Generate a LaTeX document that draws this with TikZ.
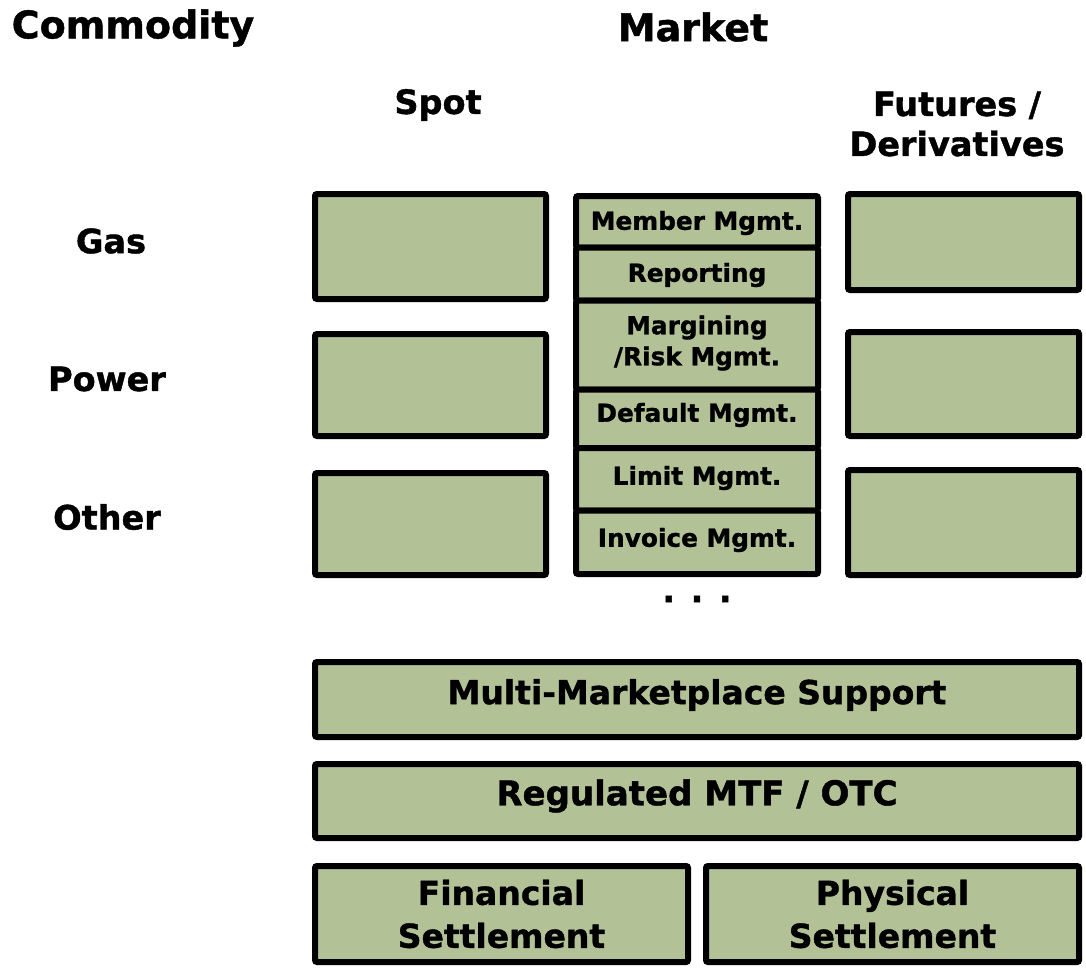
\documentclass[tikz,border=0pt]{standalone}
\usepackage{fontspec}
\setmainfont{DejaVu Sans}[BoldFeatures={FakeBold=1.2}]
\definecolor{boxgreen}{RGB}{179,194,150}
\begin{document}
\begin{tikzpicture}[x=1pt,y=-1pt,
  box/.style={draw=black, fill=boxgreen, line width=6pt, rounded corners=2pt, inner sep=0pt, align=center, font=\bfseries\fontsize{33}{43}\selectfont},
  midbox/.style={box, minimum width=242pt},
  head/.style={font=\bfseries\fontsize{38}{44}\selectfont, inner sep=0pt, align=center},
  sub/.style={font=\bfseries\fontsize{33.5}{40}\selectfont, inner sep=0pt, align=center}]
\useasboundingbox (0,0) rectangle (1086,970);
% headings
\node[head] (commodity) at (133,28) {Commodity};
\node[head] (market) at (693,27) {Market};
\node[sub] (spot) at (438,105) {Spot};
\node[sub] (futures) at (957,124) {Futures /\\Derivatives};
\node[sub] (gas) at (111,241) {Gas};
\node[sub] (power) at (107,379) {Power};
\node[sub] (other) at (107,517) {Other};
% spot column
\node[box, minimum width=231pt, minimum height=105pt] (sgas) at (430.5,246.5) {};
\node[box, minimum width=231pt, minimum height=102pt] (spower) at (430.5,385) {};
\node[box, minimum width=231pt, minimum height=102pt] (sother) at (430.5,524) {};
% futures column
\node[box, minimum width=231pt, minimum height=96pt] (fgas) at (963.5,242) {};
\node[box, minimum width=231pt, minimum height=104pt] (fpower) at (963.5,384) {};
\node[box, minimum width=231pt, minimum height=105pt] (fother) at (963.5,522.5) {};
% middle column
\node[midbox, minimum height=51.5pt] (member) at (697,221.75) {};
\node[midbox, minimum height=53pt] (reporting) at (697,274) {};
\node[midbox, minimum height=89pt] (margining) at (697,345) {};
\node[midbox, minimum height=58.5pt] (default) at (697,418.75) {};
\node[midbox, minimum height=62.5pt] (limit) at (697,479.25) {};
\node[midbox, minimum height=63.5pt] (invoice) at (697,542.25) {};
\begin{scope}[every node/.style={font=\bfseries\fontsize{24.8}{31}\selectfont, inner sep=0pt, align=center}]
\node (tmember) at (697,223) {Member Mgmt.};
\node (treporting) at (697,275) {Reporting};
\node (tmargining) at (697,343) {Margining\\/Risk Mgmt.};
\node (tdefault) at (697,415) {Default Mgmt.};
\node (tlimit) at (697,478) {Limit Mgmt.};
\node (tinvoice) at (697,540) {Invoice Mgmt.};
\end{scope}
\node[sub] (dots) at (697,599) {. . .};
% bottom layers
\node[box, minimum width=764pt, minimum height=75pt] (multi) at (697,699.5) {};
\node[box, minimum width=764pt, minimum height=74pt] (regulated) at (697,801) {};
\node[box, minimum width=373pt, minimum height=96pt] (financial) at (501.5,914) {Financial\\Settlement};
\node[box, minimum width=373pt, minimum height=96pt] (physical) at (892.5,914) {Physical\\Settlement};
\begin{scope}[every node/.style={font=\bfseries\fontsize{33}{43}\selectfont, inner sep=0pt}]
\node (tmulti) at (697,695) {Multi-Marketplace Support};
\node[font=\bfseries\fontsize{34}{43}\selectfont] (tregulated) at (697,796) {Regulated MTF / OTC};
\end{scope}
\end{tikzpicture}
\end{document}
